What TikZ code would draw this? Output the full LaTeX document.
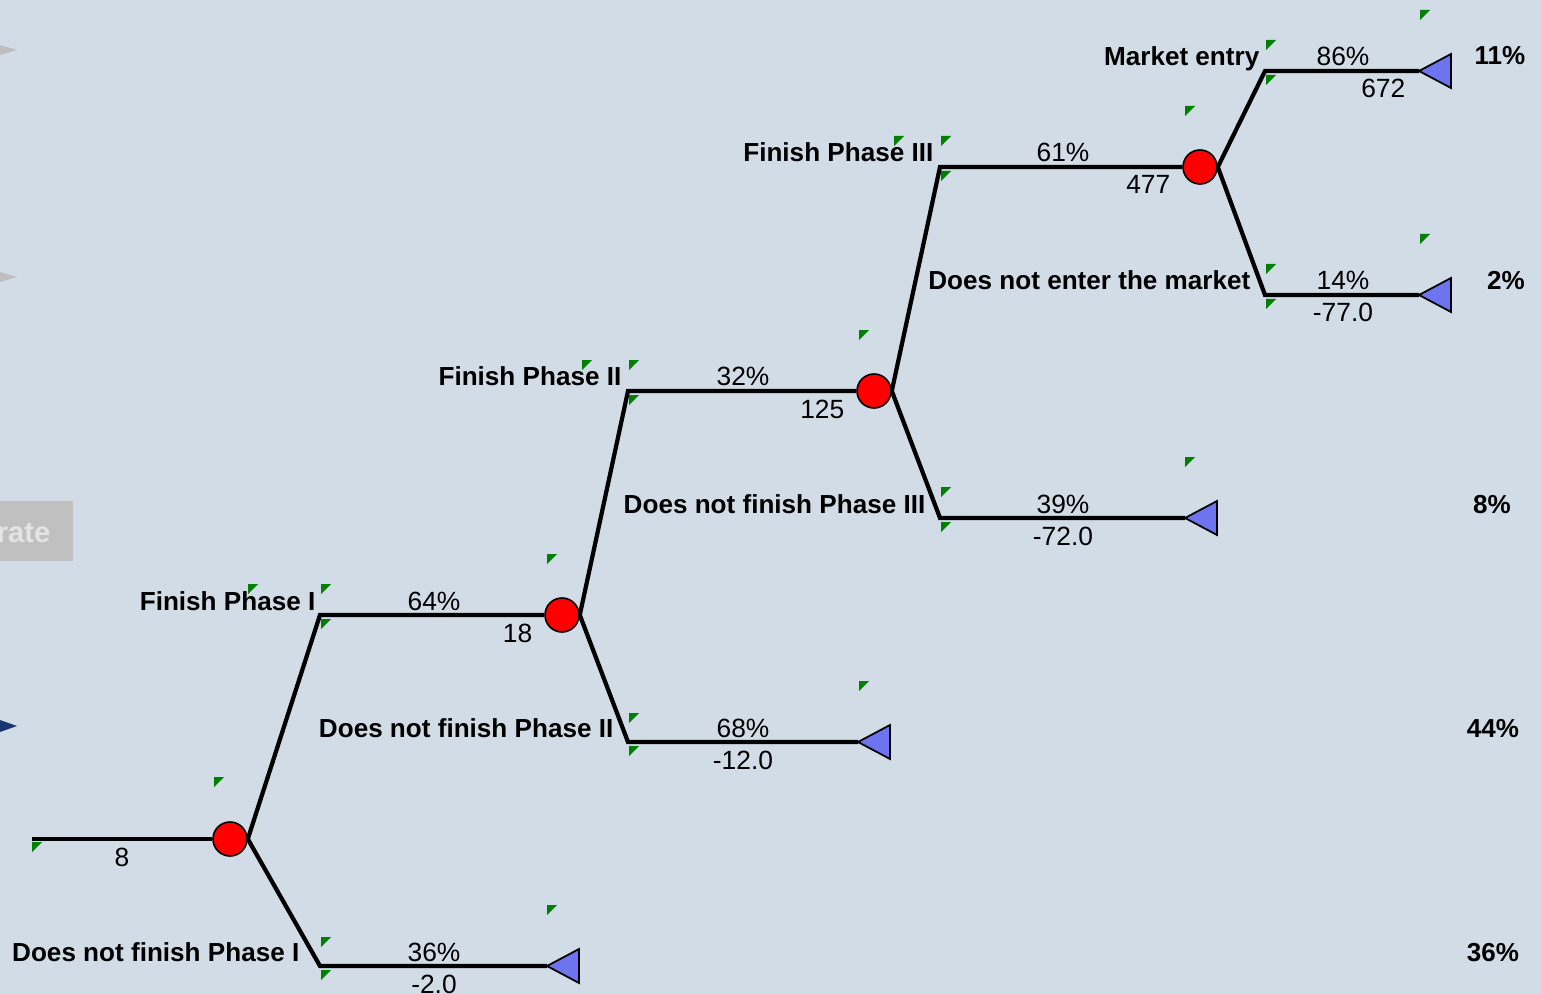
\documentclass[tikz,border=0pt]{standalone}
\usepackage{fontspec}
\setmainfont{Liberation Sans}
\definecolor{bg}{RGB}{209,220,230}
\definecolor{termblue}{RGB}{110,115,240}
\definecolor{mark}{RGB}{0,128,0}
\definecolor{navy}{RGB}{25,55,110}
\definecolor{btn}{RGB}{192,192,192}
\definecolor{btntext}{RGB}{228,228,228}
\definecolor{arrowgray}{RGB}{190,190,190}
\begin{document}
\begin{tikzpicture}[x=0.01cm,y=-0.01cm,
  branch/.style={line width=1.2pt},
  chance/.style={circle,draw=black,fill=red,minimum size=0.34cm,inner sep=0pt,line width=0.45pt},
  term/.style={fill=termblue,draw=black,line width=0.5pt,line join=miter},
  lab/.style={font=\fontsize{7.42}{8}\selectfont\bfseries,anchor=base east,inner sep=0pt},
  prob/.style={font=\fontsize{7.5}{8}\selectfont,anchor=base,inner sep=0pt},
  valr/.style={font=\fontsize{7.5}{8}\selectfont,anchor=base east,inner sep=0pt},
  share/.style={font=\fontsize{7.4}{8}\selectfont\bfseries,anchor=base,inner sep=0pt},
  gm/.style={fill=mark}]
\clip (0,0) rectangle (1542,994);
\fill[bg] (0,0) rectangle (1542,994);

% left-edge remnants
\fill[arrowgray] (0,45) -- (17,50) -- (0,55) -- cycle;
\fill[arrowgray] (0,272) -- (17,277) -- (0,282) -- cycle;
\fill[navy] (0,720) -- (17,726) -- (0,732) -- cycle;
\fill[btn] (0,501) rectangle (73,561);
\node[font=\fontsize{8.3}{9}\selectfont\bfseries,text=btntext,anchor=base east,inner sep=0pt] (btnlabel) at (51,542) {rate};

% nodes and corner points
\coordinate (r0) at (32,839);
\node[chance] (c1) at (230,839) {};
\node[chance] (c2) at (562,615) {};
\node[chance] (c3) at (874,391) {};
\node[chance] (c4) at (1200,167) {};
\coordinate (u1) at (320,615); \coordinate (d1) at (320,966);
\coordinate (u2) at (628,391); \coordinate (d2) at (628,742);
\coordinate (u3) at (940,167); \coordinate (d3) at (940,518);
\coordinate (u4) at (1265,71); \coordinate (d4) at (1265,295);
\coordinate (t1) at (547,966);
\coordinate (t2) at (858,742);
\coordinate (t3) at (1185,518);
\coordinate (t4) at (1419,71);
\coordinate (t5) at (1419,295);

% terminal triangles
\foreach \t in {t1,t2,t3,t4,t5}
  \draw[term] (\t) -- ++(32,-17) -- ++(0,34) -- cycle;

% connectors
\draw[branch] (r0) -- (c1.west);
\draw[branch] (c1.east) -- (u1) -- (c2.west);
\draw[branch] (c1.east) -- (d1) -- (t1);
\draw[branch] (c2.east) -- (u2) -- (c3.west);
\draw[branch] (c2.east) -- (d2) -- (t2);
\draw[branch] (c3.east) -- (u3) -- (c4.west);
\draw[branch] (c3.east) -- (d3) -- (t3);
\draw[branch] (c4.east) -- (u4) -- (t4);
\draw[branch] (c4.east) -- (d4) -- (t5);

% green markers
\foreach \p in {(32,842),(214,777),
  (321,584),(321,619),(248,584),(321,937),(321,970),(547,554),(547,905),
  (629,360),(629,395),(582,360),(629,713),(629,746),(859,330),(859,681),
  (941,136),(941,171),(894,136),(941,487),(941,522),(1185,106),(1185,457),
  (1266,40),(1266,75),(1266,264),(1266,299),(1420,10),(1420,234)}
  \fill[gm] \p -- ++(10,0) -- ++(-10,10) -- cycle;

% level 1
\node[valr] (v0) at (130,866) {8};
\node[lab] (l1u) at (316,610) {Finish Phase I};
\node[prob] (p1u) at (434,610) {64\%};
\node[valr] (v1u) at (533,642) {18};
\node[lab] (l1d) at (300,961) {Does not finish Phase I};
\node[prob] (p1d) at (434,961) {36\%};
\node[prob] (v1d) at (434,993) {-2.0};
% level 2
\node[lab] (l2u) at (622,386) {Finish Phase II};
\node[prob] (p2u) at (743,386) {32\%};
\node[valr] (v2u) at (845,418) {125};
\node[lab] (l2d) at (614,737) {Does not finish Phase II};
\node[prob] (p2d) at (743,737) {68\%};
\node[prob] (v2d) at (743,769) {-12.0};
% level 3
\node[lab] (l3u) at (934,162) {Finish Phase III};
\node[prob] (p3u) at (1063,162) {61\%};
\node[valr] (v3u) at (1171,194) {477};
\node[lab] (l3d) at (926,513) {Does not finish Phase III};
\node[prob] (p3d) at (1063,513) {39\%};
\node[prob] (v3d) at (1063,545) {-72.0};
% level 4
\node[lab] (l4u) at (1260,66) {Market entry};
\node[prob] (p4u) at (1343,66) {86\%};
\node[valr] (v4u) at (1406,98) {672};
\node[lab] (l4d) at (1251,289) {Does not enter the market};
\node[prob] (p4d) at (1343,289) {14\%};
\node[prob] (v4d) at (1343,321) {-77.0};

% outcome shares
\node[share] (s1) at (1500,65) {11\%};
\node[share] (s2) at (1506,289) {2\%};
\node[share] (s3) at (1492,513) {8\%};
\node[share] (s4) at (1493,737) {44\%};
\node[share] (s5) at (1493,961) {36\%};
\end{tikzpicture}
\end{document}
